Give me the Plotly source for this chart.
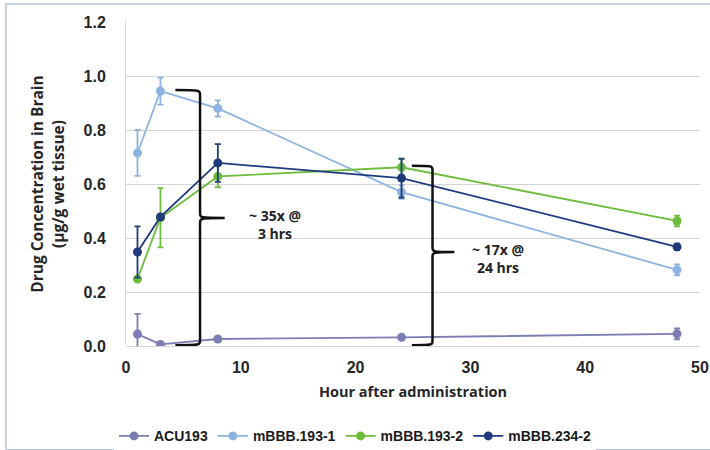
import plotly.graph_objects as go

hours = [1, 3, 8, 24, 48]

names = ["ACU193", "mBBB.193-1", "mBBB.193-2", "mBBB.234-2"]
acu193 = [0.044, 0.006, 0.026, 0.032, 0.045]
acu193_err = [0.075, 0.004, 0.006, 0.006, 0.02]
m193_1 = [0.715, 0.944, 0.88, 0.57, 0.282]
m193_1_err = [0.085, 0.05, 0.03, 0.025, 0.02]
m193_2 = [0.248, 0.475, 0.628, 0.662, 0.463]
m193_2_err = [0.0, 0.11, 0.04, 0.03, 0.02]
m234_2 = [0.348, 0.478, 0.678, 0.622, 0.367]
m234_2_err = [0.095, 0.01, 0.07, 0.072, 0.012]

colors = ["#7b7db3", "#8db4e0", "#6cbd3c", "#1f3b7d"]
series = [acu193, m193_1, m193_2, m234_2]
errors = [acu193_err, m193_1_err, m193_2_err, m234_2_err]

y_ticks = [0.0, 0.2, 0.4, 0.6, 0.8, 1.0, 1.2]
x_ticks = [0, 10, 20, 30, 40, 50]

fig = go.Figure()
for name, ys, es, c in zip(names, series, errors, colors):
    fig.add_trace(go.Scatter(
        x=hours, y=ys, name=name, mode="lines+markers",
        line=dict(color=c, width=1.8),
        marker=dict(color=c, size=9),
        error_y=dict(type="data", array=es, visible=True, color=c, thickness=1.8, width=3),
    ))

tick_font = dict(family="Liberation Sans, Arial, sans-serif", size=16, color="#262626", weight="bold")
title_font = dict(family="Open Sans, Liberation Sans, sans-serif", size=15.5, color="#262626")

fig.update_layout(
    width=710, height=450,
    margin=dict(l=126, r=10, t=22, b=104),
    paper_bgcolor="white", plot_bgcolor="white",
    showlegend=True,
    legend=dict(
        orientation="h", xref="container", yref="container",
        x=0.5, xanchor="center", y=0.066, yanchor="top",
        font=dict(family="Liberation Sans, Arial, sans-serif", size=14, color="#1a1a1a", weight="bold"),
        itemwidth=30, tracegroupgap=0,
    ),
    xaxis=dict(
        range=[0, 50], tickvals=x_ticks, showgrid=False, zeroline=False,
        showline=False, ticks="", automargin=False,
        tickfont=tick_font, ticklabelstandoff=10,
        title=dict(text="<b>Hour after administration</b>",
                   font=dict(family="Open Sans, sans-serif", size=14.5, color="#262626"), standoff=11),
    ),
    yaxis=dict(
        range=[0, 1.2], tickvals=y_ticks, tickformat=".1f", automargin=False,
        showgrid=True, gridcolor="#d4d4d4", gridwidth=1.2,
        zeroline=True, zerolinecolor="#d4d4d4", zerolinewidth=1.2,
        showline=True, linecolor="#d9d9d9", linewidth=1,
        tickfont=tick_font, ticklabelstandoff=16,
        title=dict(text="<b>Drug Concentration in Brain<br>(µg/g wet tissue)</b>", font=title_font, standoff=15),
    ),
)

# Frame border around the chart area
fig.add_shape(type="rect", xref="paper", yref="paper",
              x0=-0.209, x1=1.06, y0=-0.32, y1=1.0556,
              line=dict(color="#b8c3d6", width=1.5), fillcolor="rgba(0,0,0,0)", layer="below")

# Curly braces (data coordinates)
def brace(xl, xv, xt, ytop, ymid, ybot):
    r = 0.02
    return (f"M {xl},{ytop} C {xv},{ytop} {xv},{ytop} {xv},{ytop - r} "
            f"L {xv},{ymid + r} C {xv},{ymid} {xv},{ymid} {xt},{ymid} "
            f"C {xv},{ymid} {xv},{ymid} {xv},{ymid - r} "
            f"L {xv},{ybot + r} C {xv},{ybot} {xv},{ybot} {xl},{ybot}")

fig.add_shape(type="path", xref="x", yref="y",
              path=brace(4.3, 6.45, 8.6, 0.948, 0.474, 0.003),
              line=dict(color="#111111", width=2.5))
fig.add_shape(type="path", xref="x", yref="y",
              path=brace(24.9, 26.7, 28.6, 0.668, 0.348, 0.003),
              line=dict(color="#111111", width=2.5))

ann_font = dict(family="Open Sans, sans-serif", size=14, color="#222222")
fig.add_annotation(x=12.95, y=0.45, xref="x", yref="y", showarrow=False,
                   text="<b>~ 35x @<br>3 hrs</b>", font=ann_font, align="center")
fig.add_annotation(x=32.4, y=0.325, xref="x", yref="y", showarrow=False,
                   text="<b>~ 17x @<br>24 hrs</b>", font=ann_font, align="center")

fig.write_html("out.html", config={"displayModeBar": False},
               post_script="document.body.style.margin='0';")
